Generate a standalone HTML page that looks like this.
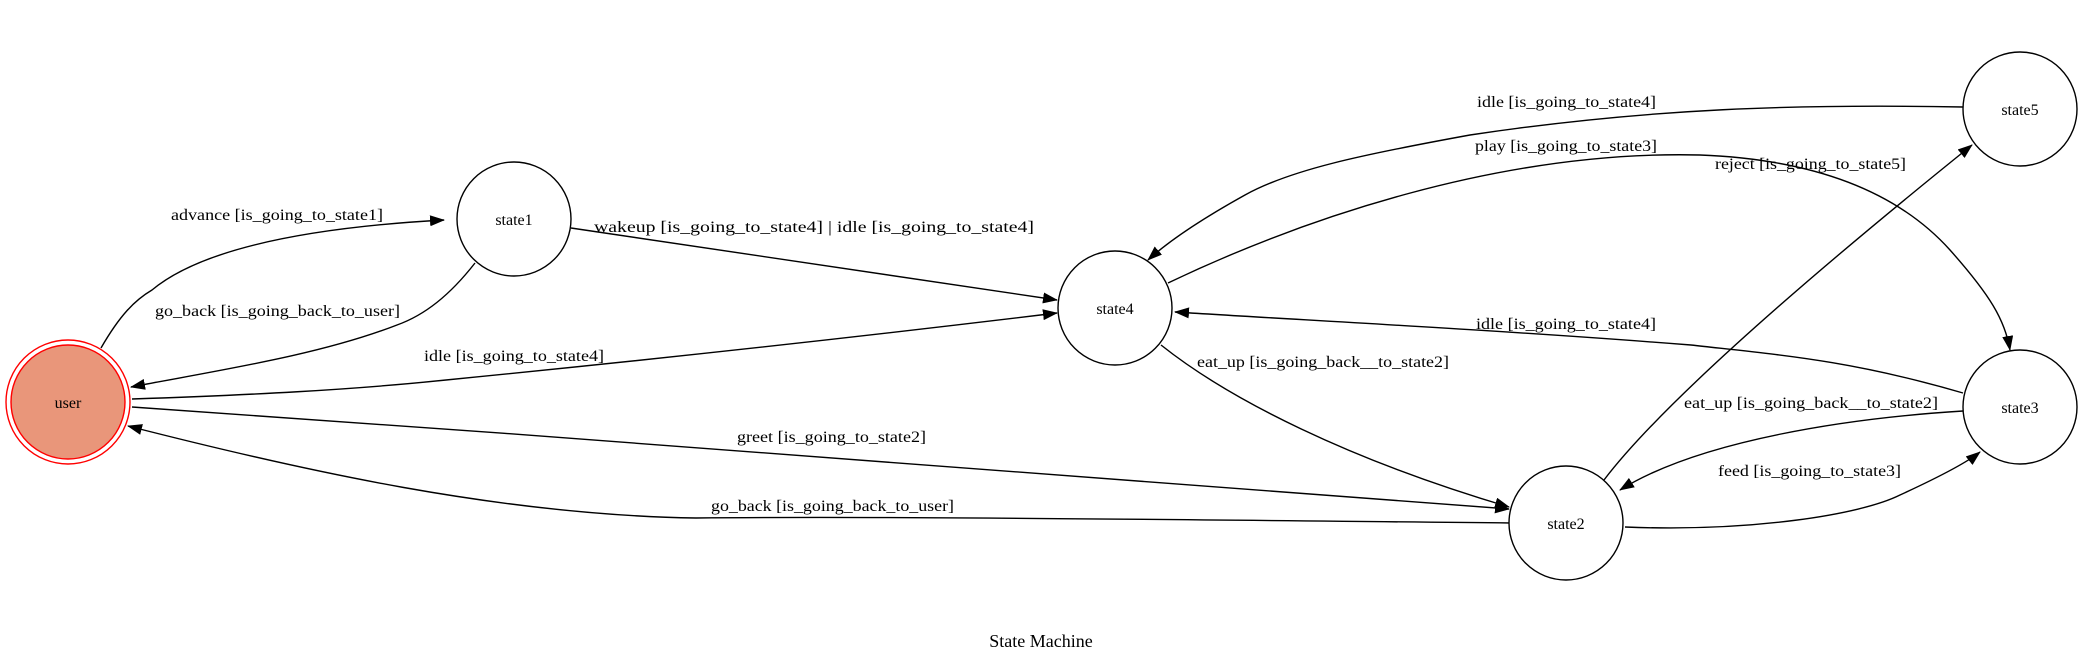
<!DOCTYPE html>
<html><head><meta charset="utf-8"><style>
html,body{margin:0;padding:0;background:#fff;}
svg{display:block;}
text{font-family:"Liberation Serif",serif;font-size:16px;fill:#000;}
</style></head><body>
<svg width="2083" height="663" viewBox="0 0 2083 663" xmlns="http://www.w3.org/2000/svg">
<defs>
<marker id="a" markerWidth="15" markerHeight="11" refX="14" refY="5.5" orient="auto" markerUnits="userSpaceOnUse">
<path d="M0,0 L15,5.5 L0,11 z" fill="#000"/>
</marker>
</defs>
<g fill="none" stroke="#000" stroke-width="1.4">
<path d="M101,348 C120,315 135,300 152,290 C200,250 300,228 444,220" marker-end="url(#a)"/>
<path d="M475,263 C450,295 425,315 397,325 C320,355 220,370 131,387" marker-end="url(#a)"/>
<path d="M132,399 C250,395 350,390 446,380 C700,355 900,332 1057,313" marker-end="url(#a)"/>
<path d="M571,228 L1057,300" marker-end="url(#a)"/>
<path d="M132,407 C600,440 1100,475 1509,509" marker-end="url(#a)"/>
<path d="M1511,523 C1200,520 900,516 696,518 C500,515 300,470 128,426" marker-end="url(#a)"/>
<path d="M1963,107 C1800,104 1650,108 1470,135 C1360,155 1290,170 1245,195 C1200,220 1170,240 1148,260" marker-end="url(#a)"/>
<path d="M1168,283 C1300,220 1500,150 1700,155 C1830,160 1905,200 1950,250 C1990,295 2005,320 2010,350" marker-end="url(#a)"/>
<path d="M1604,480 Q1680,380 1972,145" marker-end="url(#a)"/>
<path d="M1963,393 C1850,360 1780,355 1691,345 C1500,330 1300,320 1175,312" marker-end="url(#a)"/>
<path d="M1161,345 C1230,400 1350,460 1509,507" marker-end="url(#a)"/>
<path d="M1963,411 C1850,418 1700,440 1620,490" marker-end="url(#a)"/>
<path d="M1625,527 C1750,532 1860,515 1900,495 C1950,472 1970,460 1980,452" marker-end="url(#a)"/>
</g>
<circle cx="68" cy="402" r="62" fill="none" stroke="#ff0000" stroke-width="1.4"/>
<circle cx="68" cy="402" r="57" fill="#e9967a" stroke="#ff0000" stroke-width="1.4"/>
<g fill="#fff" stroke="#000" stroke-width="1.4">
<circle cx="514" cy="219" r="57"/>
<circle cx="1115" cy="308" r="57"/>
<circle cx="2020" cy="109" r="57"/>
<circle cx="2020" cy="407" r="57"/>
<circle cx="1566" cy="523" r="57"/>
</g>
<g text-anchor="middle" style="font-size:16px">
<text x="68" y="408">user</text>
<text x="514" y="225">state1</text>
<text x="1115" y="314">state4</text>
<text x="2020" y="115">state5</text>
<text x="2020" y="413">state3</text>
<text x="1566" y="529">state2</text>
</g>
<g>
<text x="171" y="220" textLength="212" lengthAdjust="spacingAndGlyphs">advance [is_going_to_state1]</text>
<text x="155" y="316" textLength="245" lengthAdjust="spacingAndGlyphs">go_back [is_going_back_to_user]</text>
<text x="424" y="361" textLength="180" lengthAdjust="spacingAndGlyphs">idle [is_going_to_state4]</text>
<text x="594" y="232" textLength="440" lengthAdjust="spacingAndGlyphs">wakeup [is_going_to_state4] | idle [is_going_to_state4]</text>
<text x="737" y="442" textLength="189" lengthAdjust="spacingAndGlyphs">greet [is_going_to_state2]</text>
<text x="711" y="511" textLength="243" lengthAdjust="spacingAndGlyphs">go_back [is_going_back_to_user]</text>
<text x="1477" y="107" textLength="179" lengthAdjust="spacingAndGlyphs">idle [is_going_to_state4]</text>
<text x="1475" y="151" textLength="182" lengthAdjust="spacingAndGlyphs">play [is_going_to_state3]</text>
<text x="1715" y="169" textLength="191" lengthAdjust="spacingAndGlyphs">reject [is_going_to_state5]</text>
<text x="1476" y="329" textLength="180" lengthAdjust="spacingAndGlyphs">idle [is_going_to_state4]</text>
<text x="1197" y="367" textLength="252" lengthAdjust="spacingAndGlyphs">eat_up [is_going_back__to_state2]</text>
<text x="1684" y="408" textLength="254" lengthAdjust="spacingAndGlyphs">eat_up [is_going_back__to_state2]</text>
<text x="1718" y="476" textLength="183" lengthAdjust="spacingAndGlyphs">feed [is_going_to_state3]</text>
</g>
<text x="1041" y="647" text-anchor="middle" style="font-size:18px">State Machine</text>
</svg>
</body></html>
